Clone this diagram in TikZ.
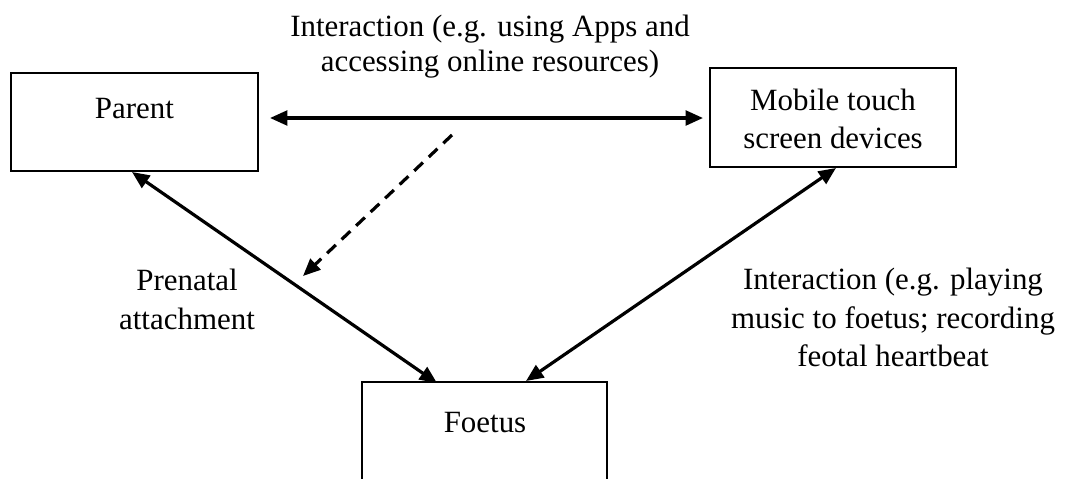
\documentclass[tikz,border=0pt]{standalone}
\usepackage{fontspec}
\setmainfont{Liberation Serif}
\usetikzlibrary{arrows.meta}
\begin{document}
\begin{tikzpicture}[x=0.75pt,y=-0.75pt,
  boxnode/.style={draw,line width=1.8pt,rectangle,inner sep=0pt},
  txt/.style={inner sep=0pt,align=center,font=\fontsize{23.2}{28}\selectfont},
  conn/.style={line width=2.4pt,{Triangle[length=13pt,width=11pt]}-{Triangle[length=13pt,width=11pt]}},
  dconn/.style={line width=2.4pt,dash pattern=on 9pt off 6pt,-{Triangle[length=13pt,width=11pt]}}]
\clip (0,0) rectangle (1066,478);
\fill[white] (0,0) rectangle (1066,478);
% boxes
\node[boxnode,minimum width=247*0.75pt,minimum height=98*0.75pt] (parent) at (134.5,122) {};
\node[boxnode,minimum width=246*0.75pt,minimum height=99*0.75pt] (mobile) at (833,117.5) {};
\node[boxnode,minimum width=245*0.75pt,minimum height=160*0.75pt] (foetus) at (484.5,462) {};
% box texts
\node[txt,anchor=base] (tparent) at (134.5,118) {Parent};
\node[txt,anchor=base] (tmob1) at (833,110) {Mobile touch};
\node[txt,anchor=base] (tmob2) at (833,148) {screen devices};
\node[txt,anchor=base] (tfoetus) at (485,432) {Foetus};
% labels
\node[txt,anchor=base] (l1a) at (490,37) {Interaction (e.g. using Apps and};
\node[txt,anchor=base] (l1b) at (490,72) {accessing online resources)};
\node[txt,anchor=base] (l2a) at (187,290) {Prenatal};
\node[txt,anchor=base] (l2b) at (187,329) {attachment};
\node[txt,anchor=base] (l3a) at (893,289) {Interaction (e.g. playing};
\node[txt,anchor=base] (l3b) at (893,328) {music to foetus; recording};
\node[txt,anchor=base] (l3c) at (893,366) {feotal heartbeat};
% connector end points
\coordinate (hA) at (270,118);
\coordinate (hB) at (703,118);
\coordinate (pfA) at (132,172);
\coordinate (pfB) at (437,383);
\coordinate (mfA) at (836,168);
\coordinate (mfB) at (526,381);
\coordinate (dA) at (452,135);
\coordinate (dB) at (303,276);
\draw[conn] (hA) -- (hB);
\draw[conn] (pfA) -- (pfB);
\draw[conn] (mfA) -- (mfB);
\draw[dconn] (dA) -- (dB);
\end{tikzpicture}
\end{document}
